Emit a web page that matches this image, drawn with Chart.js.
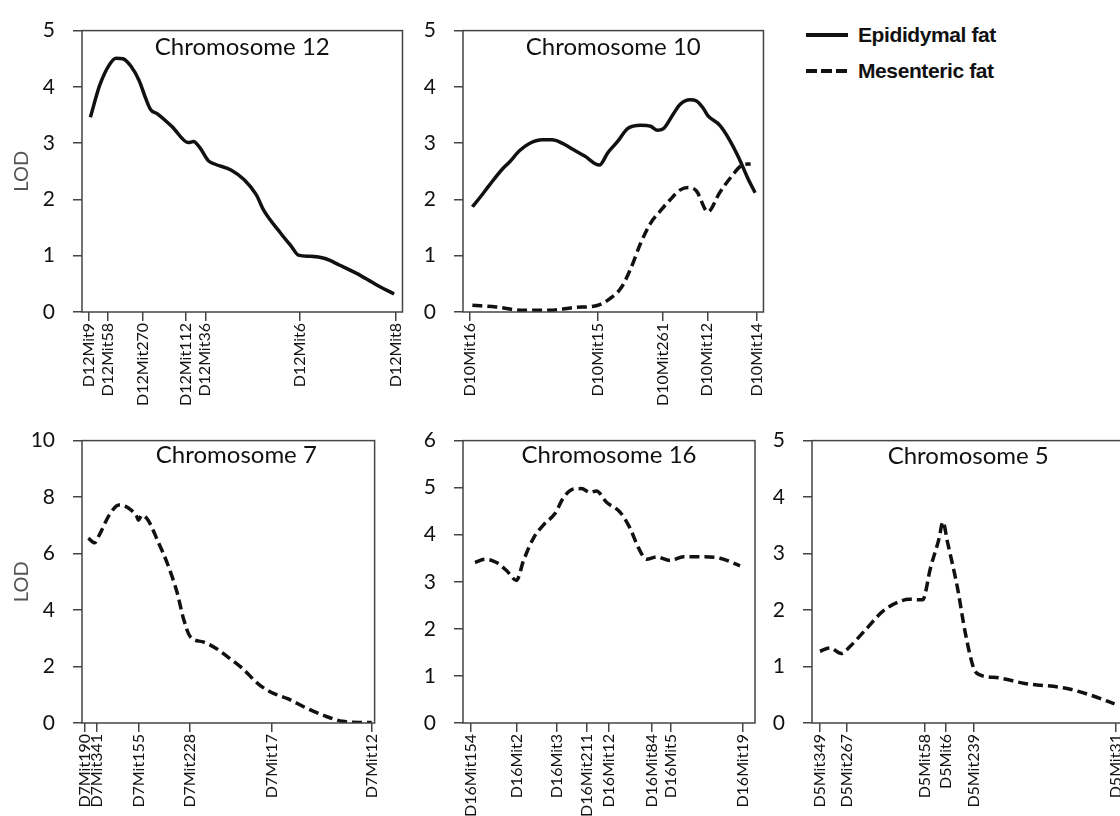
<!DOCTYPE html>
<html>
<head>
<meta charset="utf-8">
<title>LOD profiles - fat pad QTL</title>
<script src="https://cdn.jsdelivr.net/npm/chart.js@4/dist/chart.umd.min.js"></script>
<style>
	body { margin: 0; background: #fff; overflow: hidden; }
	#page { position: relative; width: 1120px; height: 816px; overflow: hidden; }
	.panel { position: absolute; }
	.legend {
		position: absolute; left: 806px; top: 17px;
		font-family: "Liberation Sans", Arial, sans-serif; font-weight: bold;
		font-size: 21px; letter-spacing: -0.4px; color: #111;
	}
	.legend-row { display: flex; align-items: center; height: 36px; }
	.swatch { width: 42px; height: 3.5px; margin-right: 10px; background: #111; }
	.swatch.dashed { background: repeating-linear-gradient(90deg, #111 0 11px, transparent 11px 15px); }
</style>
</head>
<body>
<div id="page">
	<div class="legend">
		<div class="legend-row"><span class="swatch"></span>Epididymal fat</div>
		<div class="legend-row"><span class="swatch dashed"></span>Mesenteric fat</div>
	</div>
</div>
<script>
// Chromosome 12 (epididymal fat)
const chr12Markers = ["D12Mit9", "D12Mit58", "D12Mit270", "D12Mit112", "D12Mit36", "D12Mit6", "D12Mit8"];
const chr12MarkerPos = [1.4, 5.2, 12.4, 21, 25, 44.2, 63.6];
const chr12Pos = [1.7, 3.6, 5.6, 6.9, 8.3, 9.9, 11.6, 12.9, 13.9, 15.3, 18.3, 21.6, 22.6, 23.9, 25.6, 26.9, 30.3, 32.9, 35.3, 36.9, 40.3, 42.6, 43.9, 46.3, 49.3, 52.3, 55.6, 59.6, 63.3];
const chr12Epi = [3.46, 4.03, 4.40, 4.51, 4.50, 4.37, 4.11, 3.80, 3.60, 3.52, 3.29, 3.01, 3.03, 2.92, 2.69, 2.63, 2.52, 2.35, 2.09, 1.80, 1.40, 1.15, 1.01, 0.99, 0.95, 0.83, 0.69, 0.49, 0.32];

// Chromosome 10 (both fat pads)
const chr10Markers = ["D10Mit16", "D10Mit15", "D10Mit261", "D10Mit12", "D10Mit14"];
const chr10MarkerPos = [1.4, 27.4, 40.6, 49.6, 59.6];
const chr10EpiPos = [1.9, 3.4, 5.4, 8.1, 9.4, 11.4, 13.4, 16.1, 18.1, 20.1, 22.1, 24.7, 27.7, 29.4, 31.4, 33.4, 36.1, 38.1, 39.4, 40.7, 42.7, 44.1, 46.1, 47.4, 48.7, 49.7, 52.1, 54.1, 56.1, 57.7, 59.3];
const chr10Epi = [1.87, 2.03, 2.26, 2.55, 2.66, 2.86, 2.99, 3.06, 3.06, 3.00, 2.90, 2.77, 2.61, 2.83, 3.03, 3.26, 3.32, 3.30, 3.23, 3.26, 3.52, 3.69, 3.77, 3.75, 3.63, 3.49, 3.32, 3.06, 2.72, 2.40, 2.12];
const chr10MesPos = [1.9, 6.7, 12.1, 17.4, 22.7, 27.4, 29.7, 32.1, 34.1, 36.1, 38.1, 40.1, 42.1, 44.1, 45.7, 47.4, 49.7, 52.1, 54.7, 56.7, 58.4];
const chr10Mes = [0.12, 0.09, 0.03, 0.03, 0.08, 0.12, 0.23, 0.43, 0.78, 1.23, 1.58, 1.80, 2.00, 2.17, 2.21, 2.15, 1.78, 2.12, 2.43, 2.61, 2.63];

// Chromosome 7 (mesenteric fat)
const chr7Markers = ["D7Mit190", "D7Mit341", "D7Mit155", "D7Mit228", "D7Mit17", "D7Mit12"];
const chr7MarkerPos = [0.6, 3, 11.6, 22.2, 39, 59.6];
const chr7Pos = [1.3, 2.6, 3.6, 5.6, 7.6, 9.3, 11.3, 11.6, 12.3, 13.6, 15.6, 17.6, 19.6, 20.9, 22.3, 24.9, 27.6, 30.3, 32.9, 36.3, 38.9, 42.3, 46.3, 50.3, 53.6, 56.9, 59.6];
const chr7Mes = [6.55, 6.38, 6.67, 7.36, 7.72, 7.64, 7.30, 7.18, 7.36, 7.18, 6.44, 5.63, 4.60, 3.68, 3.05, 2.87, 2.64, 2.30, 1.95, 1.38, 1.09, 0.86, 0.52, 0.23, 0.06, 0.02, 0.02];

// Chromosome 16 (mesenteric fat)
const chr16Markers = ["D16Mit154", "D16Mit2", "D16Mit3", "D16Mit211", "D16Mit12", "D16Mit84", "D16Mit5", "D16Mit19"];
const chr16MarkerPos = [1.6, 10.8, 18.8, 24.8, 29.2, 37.8, 41.6, 56.0];
const chr16Pos = [2.4, 4.4, 6.7, 8.7, 10.7, 12.1, 14.1, 16.1, 18.4, 20.1, 22.1, 23.7, 25.4, 26.7, 28.7, 31.4, 33.4, 35.1, 36.7, 38.7, 41.4, 44.1, 48.1, 51.4, 55.4];
const chr16Mes = [3.41, 3.48, 3.41, 3.24, 3.03, 3.45, 3.93, 4.21, 4.45, 4.79, 4.97, 4.98, 4.90, 4.93, 4.69, 4.48, 4.14, 3.72, 3.48, 3.53, 3.45, 3.53, 3.53, 3.50, 3.34];

// Chromosome 5 (mesenteric fat)
const chr5Markers = ["D5Mit349", "D5Mit267", "D5Mit58", "D5Mit6", "D5Mit239", "D5Mit31"];
const chr5MarkerPos = [1.6, 7, 22.8, 27, 32.6, 61.2];
const chr5Pos = [1.6, 3.6, 5.9, 7.6, 10.9, 14.3, 17.6, 19.6, 22.3, 23.9, 25.6, 26.4, 27.3, 29.3, 30.9, 32.6, 33.6, 37.6, 42.9, 50.9, 56.3, 61.0];
const chr5Mes = [1.27, 1.33, 1.23, 1.35, 1.66, 1.98, 2.15, 2.19, 2.18, 2.75, 3.26, 3.56, 3.21, 2.41, 1.60, 0.97, 0.86, 0.80, 0.70, 0.62, 0.49, 0.34];

const INK = "#111";
const FRAME = "#444";

/**
 * Zip positions and LOD scores into {x, y} points
 */
function toPoints(pos, lod) {
	return pos.map(function (x, i) {
		return { x: x, y: lod[i] };
	});
}

// box around the plot area
const framePlugin = {
	id: "frame",
	afterDraw: function (chart) {
		const a = chart.chartArea;
		const ctx = chart.ctx;
		ctx.save();
		ctx.strokeStyle = FRAME;
		ctx.lineWidth = 1.5;
		ctx.strokeRect(a.left, a.top, a.right - a.left, a.bottom - a.top);
		ctx.restore();
	},
};

// "Chromosome N" written inside the plot area
const panelTitlePlugin = {
	id: "panelTitle",
	afterDraw: function (chart, args, opts) {
		const a = chart.chartArea;
		const ctx = chart.ctx;
		ctx.save();
		ctx.font = "24px Lato";
		ctx.fillStyle = INK;
		ctx.textAlign = "center";
		ctx.textBaseline = "middle";
		ctx.fillText(opts.text, (a.left + a.right) / 2 + (opts.dx || 0), a.top + opts.dy);
		ctx.restore();
	},
};

const panels = [
	{
		title: "Chromosome 12", left: 0, top: 0, width: 417, height: 412, padTop: 20,
		yWidth: 82, xHeight: 100, yMax: 5, yStep: 1, xMax: 65, lod: true, titleDy: 17,
		markers: chr12Markers, markerPos: chr12MarkerPos,
		series: [{ label: "Epididymal fat", points: toPoints(chr12Pos, chr12Epi), dashed: false }],
	},
	{
		title: "Chromosome 10", left: 400, top: 0, width: 378, height: 412, padTop: 20,
		yWidth: 63, xHeight: 100, yMax: 5, yStep: 1, xMax: 61, lod: false, titleDy: 17,
		markers: chr10Markers, markerPos: chr10MarkerPos,
		series: [
			{ label: "Epididymal fat", points: toPoints(chr10EpiPos, chr10Epi), dashed: false },
			{ label: "Mesenteric fat", points: toPoints(chr10MesPos, chr10Mes), dashed: true },
		],
	},
	{
		title: "Chromosome 7", left: 0, top: 410, width: 393, height: 406, padTop: 23,
		yWidth: 82, xHeight: 93, yMax: 10, yStep: 2, xMax: 60.2, lod: true, titleDy: 15, titleDx: 8,
		markers: chr7Markers, markerPos: chr7MarkerPos,
		series: [{ label: "Mesenteric fat", points: toPoints(chr7Pos, chr7Mes), dashed: true }],
	},
	{
		title: "Chromosome 16", left: 400, top: 410, width: 365, height: 406, padTop: 23,
		yWidth: 63, xHeight: 93, yMax: 6, yStep: 1, xMax: 58.4, lod: false, titleDy: 15,
		markers: chr16Markers, markerPos: chr16MarkerPos,
		series: [{ label: "Mesenteric fat", points: toPoints(chr16Pos, chr16Mes), dashed: true }],
	},
	{
		title: "Chromosome 5", left: 770, top: 410, width: 367, height: 406, padTop: 22,
		yWidth: 42, xHeight: 93, yMax: 5, yStep: 1, xMax: 63, lod: false, titleDy: 16,
		markers: chr5Markers, markerPos: chr5MarkerPos,
		series: [{ label: "Mesenteric fat", points: toPoints(chr5Pos, chr5Mes), dashed: true }],
	},
];

document.addEventListener("DOMContentLoaded", function () {
	panels.forEach(buildPanel);
});

/**
 * Create one chromosome panel
 */
function buildPanel(p) {
	const box = document.createElement("div");
	box.className = "panel";
	box.style.left = p.left + "px";
	box.style.top = p.top + "px";
	box.style.width = p.width + "px";
	box.style.height = p.height + "px";
	const canvas = document.createElement("canvas");
	box.appendChild(canvas);
	document.getElementById("page").appendChild(box);

	new Chart(canvas, {
		type: "line",
		data: {
			datasets: p.series.map(function (s) {
				return {
					label: s.label,
					data: s.points,
					borderColor: INK,
					borderWidth: 3.5,
					borderDash: s.dashed ? [10, 5] : [],
					pointRadius: 0,
					cubicInterpolationMode: "monotone",
					fill: false,
				};
			}),
		},
		options: {
			responsive: true,
			maintainAspectRatio: false,
			animation: false,
			layout: { padding: { top: p.padTop, right: 10, left: 0, bottom: 0 } },
			plugins: {
				legend: { display: false },
				tooltip: { enabled: false },
				panelTitle: { text: p.title, dy: p.titleDy, dx: p.titleDx || 0 },
			},
			scales: {
				x: {
					type: "linear",
					min: 0,
					max: p.xMax,
					afterBuildTicks: function (scale) {
						scale.ticks = p.markerPos.map(function (v) {
							return { value: v };
						});
					},
					afterFit: function (scale) {
						scale.height = p.xHeight;
					},
					border: { display: false },
					grid: {
						drawOnChartArea: false,
						tickLength: 9,
						color: FRAME,
						lineWidth: 1.5,
					},
					ticks: {
						autoSkip: false,
						minRotation: 90,
						maxRotation: 90,
						padding: 2,
						color: INK,
						font: { family: "Lato", size: 16 },
						callback: function (value, index) {
							return p.markers[index];
						},
					},
				},
				y: {
					min: 0,
					max: p.yMax,
					afterFit: function (scale) {
						scale.width = p.yWidth;
					},
					border: { display: false },
					grid: {
						drawOnChartArea: false,
						tickLength: 9,
						color: FRAME,
						lineWidth: 1.5,
					},
					ticks: {
						stepSize: p.yStep,
						padding: 18,
						color: INK,
						font: { family: "Lato", size: 21 },
					},
					title: {
						display: p.lod,
						text: "LOD",
						color: "#555",
						font: { family: "Lato", size: 20 },
						padding: { top: 10, bottom: 0 },
					},
				},
			},
		},
		plugins: [framePlugin, panelTitlePlugin],
	});
}
</script>
</body>
</html>
